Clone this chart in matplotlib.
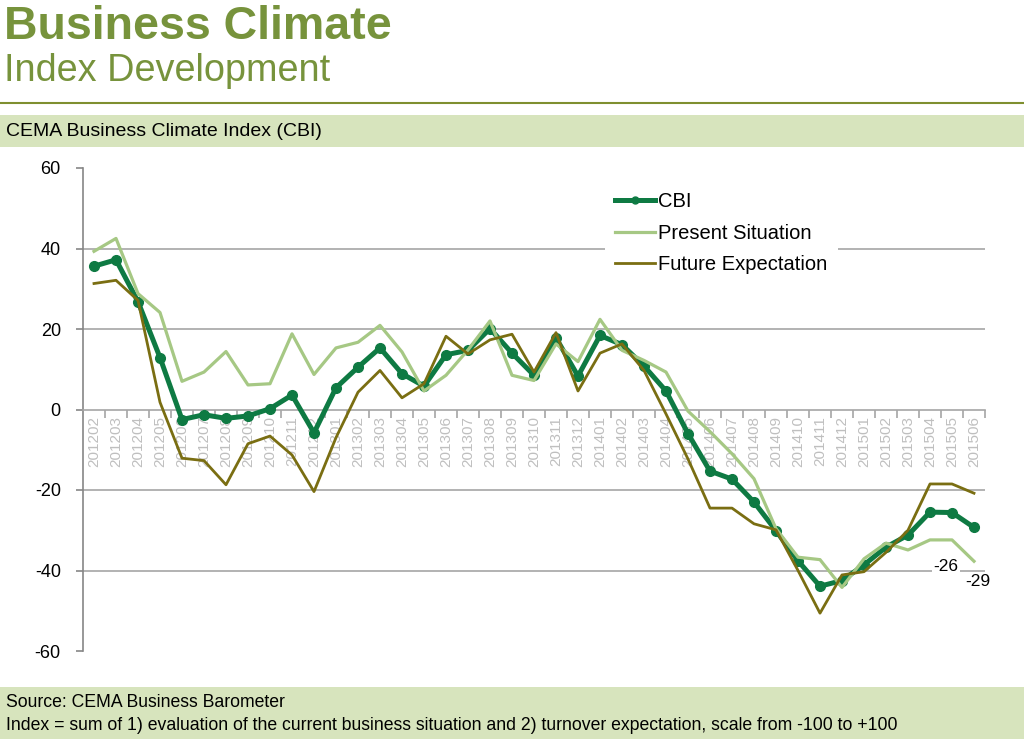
import numpy as np
import matplotlib
matplotlib.use('Agg')
import matplotlib.pyplot as plt
from matplotlib.patches import Rectangle
from matplotlib.lines import Line2D

plt.rcParams['font.family'] = ['Liberation Sans', 'DejaVu Sans']

# maanden (categorieen)
months = ['201202', '201203', '201204', '201205', '201206', '201207', '201208', '201209',
          '201210', '201211', '201212', '201301', '201302', '201303', '201304', '201305',
          '201306', '201307', '201308', '201309', '201310', '201311', '201312', '201401',
          '201402', '201403', '201404', '201405', '201406', '201407', '201408', '201409',
          '201410', '201411', '201412', '201501', '201502', '201503', '201504', '201505',
          '201506']

cbi = [35.6, 37.2, 26.8, 12.9, -2.5, -1.3, -2.2, -1.6, 0.2, 3.6, -5.8,
       5.4, 10.5, 15.3, 8.9, 5.8, 13.6, 14.7, 20.1, 14.0, 8.5, 17.8, 8.3,
       18.4, 16.1, 10.8, 4.6, -6.0, -15.3, -17.3, -23.0, -30.1, -37.6,
       -43.9, -42.5, -38.6, -34.2, -31.2, -25.5, -25.6, -29.3]

present = [39.3, 42.5, 28.8, 24.1, 7.0, 9.3, 14.4, 6.1, 6.4, 18.8, 8.7,
           15.3, 16.7, 20.9, 14.3, 4.6, 8.5, 14.8, 22.0, 8.5, 7.2, 16.3, 11.9,
           22.4, 14.7, 12.2, 9.3, -0.4, -5.5, -11.0, -17.2, -29.6, -36.7,
           -37.3, -44.2, -37.1, -33.2, -34.9, -32.4, -32.4, -37.7]

future = [31.3, 32.1, 27.1, 1.8, -12.1, -12.7, -18.7, -8.5, -6.6, -11.3, -20.4,
          -7.0, 4.3, 9.7, 2.9, 6.4, 18.2, 13.8, 17.3, 18.7, 9.3, 19.1, 4.6,
          14.0, 16.3, 9.7, -1.1, -12.3, -24.5, -24.5, -28.4, -29.9, -40.0,
          -50.6, -41.1, -40.3, -35.5, -30.0, -18.5, -18.5, -20.8]

labels = {'201505': '-26', '201506': '-29'}

dark_green = '#0E7A43'
light_green = '#A6C884'
olive = '#7A6E12'
title_green = '#77933C'
band = '#D7E4BD'
grid_grey = '#A6A6A6'

fig = plt.figure(figsize=(10.24, 7.39), dpi=100)
W, H = 1024, 739

def fy(py):
    return 1 - py / H

# kopteksten
fig.text(4 / W, fy(39), 'Business Climate', fontsize=33.5, fontweight='bold',
         color=title_green, va='baseline', ha='left')
fig.text(4 / W, fy(81), 'Index Development', fontsize=27.3,
         color=title_green, va='baseline', ha='left')
fig.add_artist(Line2D([0, 1], [fy(103), fy(103)], color='#7F8F2F', lw=1.5))

# balken boven en onder
fig.add_artist(Rectangle((0, fy(147)), 1, 32 / H, color=band, lw=0))
fig.text(6 / W, fy(131), 'CEMA Business Climate Index (CBI)', fontsize=14,
         va='center', ha='left', color='black')
fig.add_artist(Rectangle((0, 0), 1, 52 / H, color=band, lw=0))
fig.text(6 / W, fy(707), 'Source: CEMA Business Barometer', fontsize=12.7,
         va='baseline', ha='left', color='black')
fig.text(6 / W, fy(730), 'Index = sum of 1) evaluation of the current business situation and 2) '
         'turnover expectation, scale from -100 to +100', fontsize=12.7,
         va='baseline', ha='left', color='black')

ax = fig.add_axes([83 / W, 1 - 651 / H, 902 / W, 483 / H])
x = np.arange(len(months))

ax.plot(x, cbi, color=dark_green, lw=3.6, marker='o', ms=7, label='CBI', zorder=3,
        solid_joinstyle='round')
ax.plot(x, present, color=light_green, lw=2.3, label='Present Situation', zorder=4)
ax.plot(x, future, color=olive, lw=2.0, label='Future Expectation', zorder=5)

for m, txt in labels.items():
    i = months.index(m)
    dx = -6 if m == '201505' else 4
    ax.annotate(txt, (i, cbi[i]), xytext=(dx, -54), textcoords='offset pixels',
                ha='center', va='center', fontsize=12.5, color='black', zorder=6,
                bbox=dict(boxstyle='square,pad=0.1', fc='white', ec='none'))

ax.set_xlim(-0.5, len(months) - 0.5)
ax.set_ylim(-60, 60)
ax.set_yticks(range(-60, 61, 20))
ax.set_yticklabels([str(v) for v in range(-60, 61, 20)])
for v in [40, 20, -20, -40]:
    ax.axhline(v, color=grid_grey, lw=1.2, zorder=1)

for s in ['top', 'right']:
    ax.spines[s].set_visible(False)
ax.spines['left'].set_color('#868686')
ax.spines['left'].set_linewidth(1.2)
ax.spines['bottom'].set_position(('data', 0))
ax.spines['bottom'].set_color(grid_grey)
ax.spines['bottom'].set_linewidth(1.2)

ax.set_xticks(x)
ax.set_xticklabels(months, rotation=90, fontsize=11, color='#BFBFBF', va='top')
ax.tick_params(axis='x', which='major', length=0, pad=5)
ax.set_xticks(np.arange(-0.5, len(months), 1)[1:], minor=True)
ax.tick_params(axis='x', which='minor', length=6, color=grid_grey, width=1.2)
ax.tick_params(axis='y', length=5, color='#868686', width=1.2, labelsize=13, pad=11)

leg = ax.legend(loc='upper left', bbox_to_anchor=(512 / 902, 1 - 4 / 483), frameon=True,
                fontsize=14.5, handlelength=2.0, labelspacing=0.62, handletextpad=0.15,
                borderpad=0.5, fancybox=False)
leg.get_frame().set_facecolor('white')
leg.get_frame().set_edgecolor('none')
leg.get_frame().set_alpha(1)
leg.set_zorder(7)
for h in leg.get_lines():
    h.set_markersize(5)

fig.savefig('out.png', dpi=100)
